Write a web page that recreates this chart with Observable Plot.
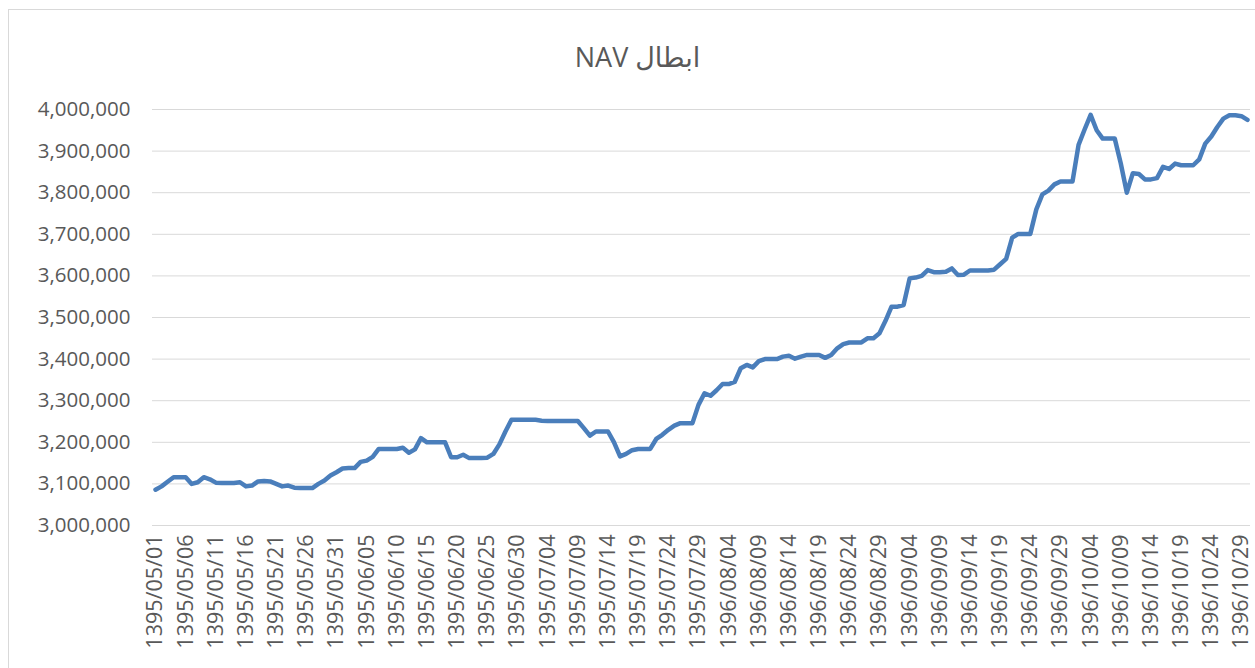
<!DOCTYPE html>
<html><head><meta charset="utf-8">
<script src="https://cdn.jsdelivr.net/npm/d3@7"></script>
<script src="https://cdn.jsdelivr.net/npm/@observablehq/plot@0.6"></script>
<style>
body{margin:0;background:#fff;}
#frame{position:absolute;left:8px;top:9px;width:1270px;height:690px;border:1px solid #d9d9d9;box-sizing:border-box;}
#chart{position:relative;width:1255px;height:668px;overflow:hidden;}
#title{height:80px;box-sizing:border-box;padding-top:43px;padding-left:20px;line-height:28px;font-size:27px;text-align:center;color:#595959;font-family:"Open Sans","DejaVu Sans",sans-serif;}
</style></head>
<body>
<div id="chart"><div id="frame"></div><div id="title" dir="rtl">ابطال NAV</div><div id="plot"></div></div>
<script>
const navValues = [
3086000,3094000,3105000,3116000,3116000,3116000,3100000,3104000,3116000,3111000,
3103000,3102000,3102000,3102000,3104000,3094000,3096000,3106000,3107000,3106000,
3100000,3094000,3096000,3091000,3090000,3090000,3090000,3100000,3108000,3120000,
3128000,3137000,3138000,3138000,3153000,3156000,3165000,3184000,3184000,3184000,
3184000,3187000,3175000,3183000,3210000,3200000,3200000,3200000,3200000,3164000,
3164000,3170000,3162000,3162000,3162000,3163000,3172000,3195000,3226000,3254000,
3254000,3254000,3254000,3254000,3252000,3251000,3251000,3251000,3251000,3251000,
3251000,3234000,3216000,3226000,3226000,3226000,3200000,3166000,3172000,3181000,
3184000,3184000,3184000,3208000,3218000,3230000,3240000,3246000,3246000,3246000,
3290000,3318000,3312000,3325000,3340000,3340000,3345000,3378000,3386000,3380000,
3395000,3400000,3400000,3400000,3406000,3408000,3401000,3406000,3410000,3410000,
3410000,3403000,3410000,3426000,3436000,3440000,3440000,3440000,3450000,3450000,
3462000,3492000,3526000,3526000,3530000,3594000,3596000,3600000,3614000,3609000,
3609000,3610000,3618000,3602000,3603000,3613000,3613000,3613000,3613000,3615000,
3628000,3641000,3692000,3701000,3701000,3701000,3760000,3796000,3805000,3820000,
3827000,3827000,3827000,3915000,3952000,3987000,3950000,3930000,3930000,3930000,
3870000,3800000,3847000,3845000,3832000,3832000,3835000,3862000,3857000,3870000,
3866000,3866000,3866000,3880000,3918000,3935000,3958000,3978000,3986000,3986000,
3984000,3975000
];
const tickLabels = [
"1395/05/01","1395/05/06","1395/05/11","1395/05/16","1395/05/21","1395/05/26","1395/05/31",
"1395/06/05","1395/06/10","1395/06/15","1395/06/20","1395/06/25","1395/06/30",
"1395/07/04","1395/07/09","1395/07/14","1395/07/19","1395/07/24","1395/07/29",
"1396/08/04","1396/08/09","1396/08/14","1396/08/19","1396/08/24","1396/08/29",
"1396/09/04","1396/09/09","1396/09/14","1396/09/19","1396/09/24","1396/09/29",
"1396/10/04","1396/10/09","1396/10/14","1396/10/19","1396/10/24","1396/10/29"
];
const tickStep = 5;
const yTicks = [3000000,3100000,3200000,3300000,3400000,3500000,3600000,3700000,3800000,3900000,4000000];

const data = navValues.map((v, i) => ({i, v}));
const tickPos = tickLabels.map((_, k) => k * tickStep);
const fmt = d3.format(",");

const chart = Plot.plot({
  width: 1255, height: 588,
  marginTop: 29, marginBottom: 143, marginLeft: 152, marginRight: 5,
  style: {fontFamily: '"Open Sans", "DejaVu Sans", sans-serif', color: "#595959", background: "transparent", overflow: "visible"},
  x: {domain: [-0.5, navValues.length - 0.5]},
  y: {domain: [3000000, 4000000]},
  marks: [
    Plot.gridY(yTicks, {stroke: "#d9d9d9", strokeOpacity: 1, strokeWidth: 1}),
    Plot.axisY(yTicks, {tickSize: 0, tickPadding: 22, tickFormat: fmt, fontSize: 20.5, fill: "#595959", label: null}),
    Plot.axisX(tickPos, {tickSize: 0, tickRotate: -90, tickPadding: 9, tickFormat: d => tickLabels[d / tickStep], fontSize: 21.5, fill: "#595959", label: null}),
    Plot.lineY(data, {x: "i", y: "v", stroke: "#4a7ebb", strokeWidth: 4.5, strokeLinejoin: "round", strokeLinecap: "round"})
  ]
});
document.getElementById("plot").appendChild(chart);
</script>
</body></html>
